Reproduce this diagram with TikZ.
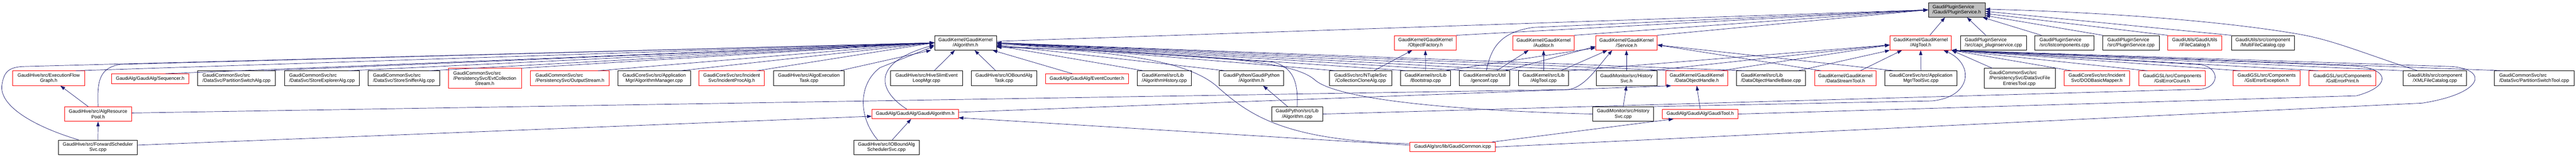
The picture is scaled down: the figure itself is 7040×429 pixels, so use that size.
\documentclass[tikz,border=0pt]{standalone}
\usepackage{fontspec}
\usepackage{tikz}
\usetikzlibrary{arrows.meta}

\newfontfamily\doxyfont{Liberation Sans}
\newcommand{\graphfont}{\doxyfont\fontsize{13pt}{14.5pt}\selectfont}
\definecolor{incblue}{HTML}{191970}
\definecolor{rootgray}{HTML}{BFBFBF}

\tikzset{
	file/.style={draw=black, fill=white, line width=1.1pt, rectangle, font=\graphfont, align=center, inner xsep=2pt, inner ysep=0pt, minimum height=40},
	trunc/.style={file, draw=red},
	main/.style={file, fill=rootgray},
	inc/.style={draw=incblue, line width=1pt, -{Triangle[length=13pt,width=9pt]}},
}

\begin{document}
\begin{tikzpicture}[x=1pt, y=-1pt]
		\useasboundingbox (0,0) rectangle (7040,429);

		\node[main,  align=left, minimum width=155] (root)        at (5347.5,  27) {GaudiPluginService\\/Gaudi/PluginService.h};

		\node[file,  minimum width=169]             (alg)         at (2638.5, 117) {GaudiKernel/GaudiKernel\\/Algorithm.h};
		\node[trunc, minimum width=169]             (objfac)      at (3895.5, 117) {GaudiKernel/GaudiKernel\\/ObjectFactory.h};
		\node[trunc, minimum width=167]             (auditor)     at (4218.5, 117) {GaudiKernel/GaudiKernel\\/Auditor.h};
		\node[trunc, minimum width=168]             (service)     at (4445,   117) {GaudiKernel/GaudiKernel\\/Service.h};
		\node[trunc, minimum width=168]             (algtoolh)    at (5249,   117) {GaudiKernel/GaudiKernel\\/AlgTool.h};
		\node[file,  align=left, minimum width=180] (capi)        at (5448,   117) {GaudiPluginService\\/src/capi\_pluginservice.cpp};
		\node[file,  align=left, minimum width=162] (listcomp)    at (5642,   117) {GaudiPluginService\\/src/listcomponents.cpp};
		\node[file,  align=left, minimum width=154] (plugsvc)     at (5824,   117) {GaudiPluginService\\/src/PluginService.cpp};
		\node[trunc, minimum width=148]             (ifilecat)    at (5998,   117) {GaudiUtils/GaudiUtils\\/IFileCatalog.h};
		\node[file,  minimum width=172]             (multifile)   at (6184,   117) {GaudiUtils/src/component\\/MultiFileCatalog.cpp};

		\node[trunc, minimum width=196]             (efgraph)     at ( 133,   214) {GaudiHive/src/ExecutionFlow\\Graph.h};
		\node[trunc, minimum width=211, minimum height=26] (sequencer) at ( 410.5, 215) {GaudiAlg/GaudiAlg/Sequencer.h};
		\node[file,  align=left, minimum width=213] (partsw)      at ( 646.5, 214) {GaudiCommonSvc/src\\/DataSvc/PartitionSwitchAlg.cpp};
		\node[file,  align=left, minimum width=204] (storeexp)    at ( 880,   214) {GaudiCommonSvc/src\\/DataSvc/StoreExplorerAlg.cpp};
		\node[file,  align=left, minimum width=195] (storesniff)  at (1103.5, 214) {GaudiCommonSvc/src\\/DataSvc/StoreSnifferAlg.cpp};
		\node[trunc, align=left, minimum width=200, minimum height=55] (evtcoll) at (1325, 214.5) {GaudiCommonSvc/src\\/PersistencySvc/EvtCollection\\\hspace*{59pt}Stream.h};
		\node[trunc, align=left, minimum width=215] (outstream)   at (1557.5, 214) {GaudiCommonSvc/src\\/PersistencySvc/OutputStream.h};
		\node[file,  minimum width=198]             (algmgr)      at (1788,   214) {GaudiCoreSvc/src/Application\\Mgr/AlgorithmManager.cpp};
		\node[trunc, minimum width=179]             (incproc)     at (1999.5, 214) {GaudiCoreSvc/src/Incident\\Svc/IncidentProcAlg.h};
		\node[file,  minimum width=193]             (algoexec)    at (2210.5, 214) {GaudiHive/src/AlgoExecution\\Task.cpp};
		\node[file,  minimum width=196]             (hiveslim)    at (2532,   214) {GaudiHive/src/HiveSlimEvent\\LoopMgr.cpp};
		\node[file,  minimum width=179]             (ioboundtask) at (2743.5, 214) {GaudiHive/src/IOBoundAlg\\Task.cpp};
		\node[trunc, minimum width=227, minimum height=26] (evtcounter) at (2970.5, 215) {GaudiAlg/GaudiAlg/EventCounter.h};
		\node[file,  align=left, minimum width=148] (alghist)     at (3182,   214) {GaudiKernel/src/Lib\\/AlgorithmHistory.cpp};
		\node[file,  minimum width=176]             (pyalgh)      at (3420,   214) {GaudiPython/GaudiPython\\/Algorithm.h};
		\node[file,  minimum width=171]             (collclone)   at (3718.5, 214) {GaudiSvc/src/NTupleSvc\\/CollectionCloneAlg.cpp};
		\node[file,  minimum width=136]             (bootstrap)   at (3896,   214) {GaudiKernel/src/Lib\\/Bootstrap.cpp};
		\node[file,  minimum width=138]             (genconf)     at (4057,   214) {GaudiKernel/src/Util\\/genconf.cpp};
		\node[file,  minimum width=137]             (algtoolcpp)  at (4218.5, 214) {GaudiKernel/src/Lib\\/AlgTool.cpp};
		\node[file,  minimum width=166]             (histsvch)    at (4445,   214) {GaudiMonitor/src/History\\Svc.h};
		\node[trunc, minimum width=168]             (dohandle)    at (4637,   214) {GaudiKernel/GaudiKernel\\/DataObjectHandle.h};
		\node[file,  align=left, minimum width=188] (dohbase)     at (4840,   214) {GaudiKernel/src/Lib\\/DataObjectHandleBase.cpp};
		\node[trunc, minimum width=168]             (dstreamtool) at (5043,   214) {GaudiKernel/GaudiKernel\\/DataStreamTool.h};
		\node[file,  minimum width=197]             (toolsvc)     at (5249.5, 214) {GaudiCoreSvc/src/Application\\Mgr/ToolSvc.cpp};
		\node[file,  align=left, minimum width=195, minimum height=55] (dsfentries) at (5519.5, 214.5) {GaudiCommonSvc/src\\/PersistencySvc/DataSvcFile\\\hspace*{37.6pt}EntriesTool.cpp};
		\node[trunc, minimum width=179]             (dodmapper)   at (5730.5, 214) {GaudiCoreSvc/src/Incident\\Svc/DODBasicMapper.h};
		\node[trunc, minimum width=182]             (gslcount)    at (5936,   214) {GaudiGSL/src/Components\\/GslErrorCount.h};
		\node[trunc, minimum width=183]             (gslexc)      at (6194.5, 214) {GaudiGSL/src/Components\\/GslErrorException.h};
		\node[trunc, minimum width=183]             (gslprint)    at (6401.5, 214) {GaudiGSL/src/Components\\/GslErrorPrint.h};
		\node[file,  minimum width=173]             (xmlcat)      at (6654.5, 214) {GaudiUtils/src/component\\/XMLFileCatalog.cpp};
		\node[file,  align=left, minimum width=219] (partswtool)  at (6925.5, 214) {GaudiCommonSvc/src\\/DataSvc/PartitionSwitchTool.cpp};

		\node[trunc, minimum width=184]             (respool)     at ( 268,   312) {GaudiHive/src/AlgResource\\Pool.h};
		\node[trunc, minimum width=236, minimum height=26] (gaudialg) at (2501, 312) {GaudiAlg/GaudiAlg/GaudiAlgorithm.h};
		\node[file,  minimum width=140]             (pyalgcpp)    at (3545,   312) {GaudiPython/src/Lib\\/Algorithm.cpp};
		\node[file,  minimum width=166]             (histsvccpp)  at (4436,   312) {GaudiMonitor/src/History\\Svc.cpp};
		\node[trunc, minimum width=207, minimum height=26] (gauditool) at (4646.5, 312) {GaudiAlg/GaudiAlg/GaudiTool.h};

		\node[file,  minimum width=215]             (fwdsched)    at ( 267.5, 403) {GaudiHive/src/ForwardScheduler\\Svc.cpp};
		\node[file,  minimum width=179]             (ioboundsched) at (2422.5, 403) {GaudiHive/src/IOBoundAlg\\SchedulerSvc.cpp};
		\node[trunc, minimum width=234, minimum height=26] (gcommon) at (3970, 402) {GaudiAlg/src/lib/GaudiCommon.icpp};

		\draw[inc] ([yshift=4]alg.east) -- (root.west);
		\draw[inc] (objfac.north east) -- (root.west);
		\draw[inc] (auditor.north east) -- (root.west);
		\draw[inc] (service.north east) -- (root.west);
		\draw[inc] ([xshift=5]genconf.north) .. controls (4075,130) and (4100,88) .. (4190,75) -- (root.west);
		\draw[inc] ([xshift=25]algtoolh.north) -- ([xshift=-32]root.south);
		\draw[inc] ([xshift=-21]capi.north) -- ([xshift=28]root.south);
		\draw[inc] ([xshift=-63]listcomp.north) -- ([xshift=-7]root.south east);
		\draw[inc] (plugsvc.north west) -- ([yshift=5]root.south east);
		\draw[inc] (ifilecat.north west) -- ([yshift=-10]root.east);
		\draw[inc] (multifile.north west) -- ([yshift=-4]root.east);
		\draw[inc] ([xshift=-47]xmlcat.north) .. controls (6470,150) and (6380,110) .. (6280,93) .. controls (6100,62) and (5800,35) .. ([yshift=2]root.east);

		\draw[inc] ([xshift=55]fwdsched.north west) .. controls (90,345) and (0,290) .. (5,235) .. controls (10,195) and (25,185) .. (60,182) -- (alg.west);
		\draw[inc] (respool.north) .. controls (265,220) and (272,185) .. (330,176) -- (alg.west);
		\draw[inc] ([xshift=-24]efgraph.north east) -- (alg.west);
		\draw[inc] ([xshift=-64]sequencer.north east) -- (alg.west);
		\draw[inc] ([xshift=-31]partsw.north east) -- (alg.west);
		\draw[inc] ([xshift=-30]storeexp.north east) -- (alg.west);
		\draw[inc] ([xshift=-29]storesniff.north east) -- (alg.west);
		\draw[inc] (evtcoll.north east) -- (alg.west);
		\draw[inc] ([xshift=-31]outstream.north east) -- (alg.west);
		\draw[inc] ([xshift=-28]algmgr.north east) -- (alg.west);
		\draw[inc] ([xshift=-21]incproc.north east) -- (alg.west);
		\draw[inc] ([xshift=-13]algoexec.north east) -- ([xshift=-9]alg.south west);
		\draw[inc] ([xshift=-23]gaudialg.north) .. controls (2395,245) and (2385,170) .. ([yshift=-6]alg.west);
		\draw[inc] ([xshift=-24]ioboundsched.north) .. controls (2345,320) and (2345,230) .. (2405,185) -- ([yshift=-9]alg.west);
		\draw[inc] ([xshift=21]hiveslim.north) -- ([xshift=-29]alg.south);
		\draw[inc] ([xshift=-22]ioboundtask.north) -- ([xshift=25]alg.south);
		\draw[inc] ([xshift=-40]evtcounter.north) -- ([xshift=-11]alg.south east);

		\draw[inc] ([xshift=18]alghist.north west) -- ([yshift=-8]alg.east);
		\draw[inc] ([xshift=18]pyalgh.north west) -- ([yshift=-6]alg.east);
		\draw[inc] ([xshift=19]collclone.north west) -- (alg.east);
		\draw[inc] ([xshift=18]bootstrap.north west) -- (alg.east);
		\draw[inc] ([xshift=19]genconf.north west) -- (alg.east);
		\draw[inc] ([xshift=18]algtoolcpp.north west) -- (alg.east);
		\draw[inc] (histsvch.north west) -- (alg.east);
		\draw[inc] ([xshift=25]dohandle.north west) -- (alg.east);
		\draw[inc] ([xshift=25]dohbase.north west) -- (alg.east);
		\draw[inc] (pyalgcpp.north) .. controls (3548,225) and (3535,185) .. (3480,170) -- ([yshift=-3]alg.east);
		\draw[inc] ([yshift=9]gcommon.west) .. controls (3520,385) and (3420,320) .. (3330,240) .. controls (3260,175) and (3100,140) .. ([yshift=-10]alg.east);
		\draw[inc] (histsvccpp.west) .. controls (3900,300) and (3650,265) .. (3595,220) .. controls (3545,175) and (3400,150) .. ([yshift=-12]alg.east);

		\draw[inc] ([xshift=-27]respool.north) -- ([xshift=32]efgraph.south);
		\draw[inc] (fwdsched.north) -- (respool.south);
		\draw[inc] ([yshift=6]fwdsched.east) -- ([yshift=-6]gaudialg.west);
		\draw[inc] ([xshift=16]ioboundsched.north) -- ([xshift=-11]gaudialg.south);
		\draw[inc] ([yshift=5]gcommon.west) -- ([yshift=-10]gaudialg.east);
		\draw[inc] ([yshift=5]gaudialg.east) -- ([xshift=15]dohandle.south west);
		\draw[inc] ([yshift=3]respool.east) -- (4285,245) .. controls (4330,240) and (4365,185) .. ([xshift=-39]service.south);

		\draw[inc] ([xshift=-16]bootstrap.north east) -- ([yshift=-14]service.west);
		\draw[inc] ([xshift=-13]genconf.north east) -- ([yshift=-10]service.west);
		\draw[inc] ([xshift=-22]algtoolcpp.north east) -- ([xshift=-52]service.south);
		\draw[inc] (histsvch.north) -- (service.south);
		\draw[inc] ([xshift=27]toolsvc.north west) -- ([yshift=-6]service.east);
		\draw[inc] ([xshift=19]dstreamtool.north west) -- ([yshift=-6]service.east);

		\draw[inc] ([xshift=36]collclone.north) -- ([xshift=-36]objfac.south);
		\draw[inc] (bootstrap.north) -- (objfac.south);
		\draw[inc] (algtoolcpp.north) -- (auditor.south);
		\draw[inc] ([xshift=33]genconf.north) -- ([xshift=-41]auditor.south);

		\draw[inc] ([xshift=-26]pyalgcpp.north) -- ([xshift=32]pyalgh.south);
		\draw[inc] (histsvccpp.north) -- (histsvch.south);
		\draw[inc] (gauditool.north) -- (dohandle.south);
		\draw[inc] ([xshift=-10]gcommon.north east) -- ([xshift=31]gauditool.south west);

		\draw[inc] (algtoolcpp.north east) -- ([yshift=-6]algtoolh.west);
		\draw[inc] ([xshift=-21]histsvch.north east) -- ([yshift=-6]algtoolh.west);
		\draw[inc] ([xshift=-19]dohandle.north east) -- ([yshift=-6]algtoolh.west);
		\draw[inc] ([xshift=-21]dohbase.north east) -- (algtoolh.south west);
		\draw[inc] ([xshift=41]dstreamtool.north) -- ([xshift=-51]algtoolh.south);
		\draw[inc] (toolsvc.north) -- (algtoolh.south);
		\draw[inc] (histsvccpp.north east) -- (5280,276) .. controls (5390,265) and (5395,175) .. ([xshift=-22]algtoolh.south east);
		\draw[inc] ([xshift=23]dsfentries.north west) -- (algtoolh.south east);
		\draw[inc] ([xshift=21]dodmapper.north west) -- (algtoolh.south east);
		\draw[inc] ([xshift=24]gslcount.north west) -- (algtoolh.south east);
		\draw[inc] ([xshift=20]gslexc.north west) -- (algtoolh.south east);
		\draw[inc] ([xshift=26]gslprint.north west) -- (algtoolh.south east);
		\draw[inc] (xmlcat.north west) -- (algtoolh.south east);
		\draw[inc] ([xshift=28]partswtool.north west) -- (algtoolh.south east);
		\draw[inc] (pyalgcpp.east) -- (6015,244) .. controls (6065,238) and (6068,186) .. (6015,177) -- (algtoolh.south east);
		\draw[inc] (gauditool.east) -- (6440,262) .. controls (6530,238) and (6535,192) .. (6445,181) -- (algtoolh.south east);
		\draw[inc] (gcommon.east) -- (6620,282) .. controls (6790,255) and (6800,190) .. (6700,182) -- (algtoolh.south east);
\end{tikzpicture}
\end{document}
